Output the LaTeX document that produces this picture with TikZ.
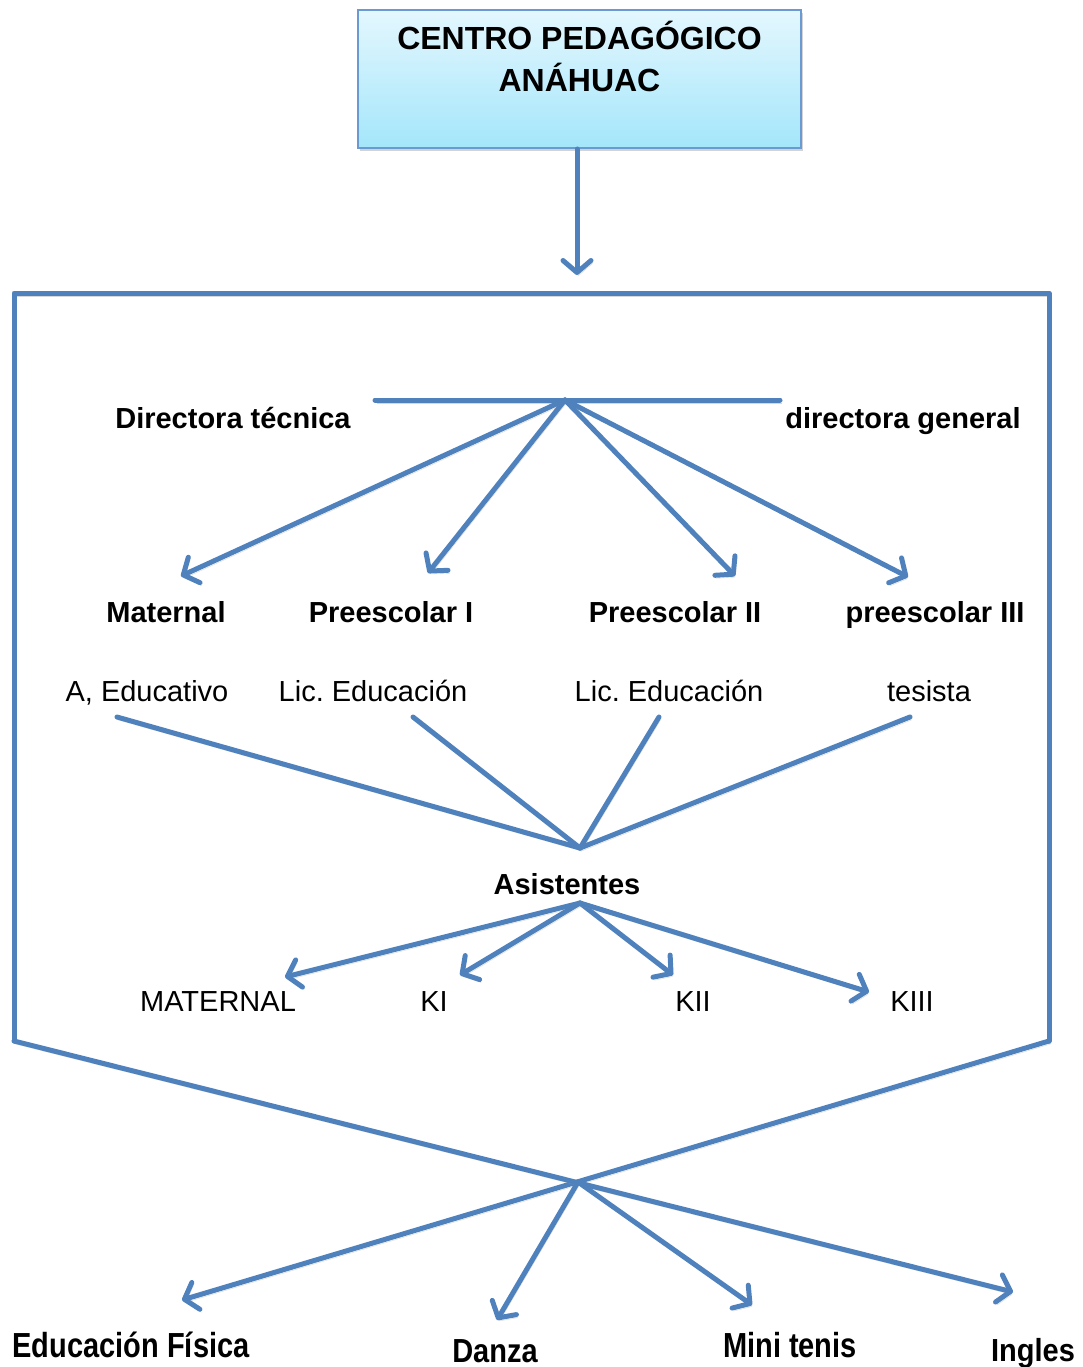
\documentclass[tikz,border=0pt]{standalone}
\usepackage{fontspec}
\setmainfont{Liberation Sans}
\frenchspacing
\usetikzlibrary{arrows.meta,shadows}
\definecolor{lnblue}{HTML}{4F81BD}
\definecolor{boxedge}{HTML}{6A9AD4}
\definecolor{boxtop}{HTML}{E4F7FE}
\definecolor{boxbot}{HTML}{A4E6FB}
\tikzset{
  shd/.style={preaction={draw=black!35,opacity=0.45,transform canvas={xshift=1.5pt,yshift=-3pt}}},
  conn/.style={draw=lnblue,line width=5pt,line cap=round,line join=round,shd},
  arr/.style={conn,-{Straight Barb[length=12pt,width=28pt,round]}},
  bl/.style={font=\fontsize{29}{35}\selectfont\bfseries,inner sep=0pt,anchor=base},
  rg/.style={font=\fontsize{29}{35}\selectfont,inner sep=0pt,anchor=base},
  bt/.style={font=\fontsize{29}{35}\selectfont\bfseries,inner sep=0pt,anchor=base},
  titlebox/.style={draw=boxedge,line width=2pt,top color=boxtop,bottom color=boxbot,
     minimum width=443pt,minimum height=138pt,inner sep=0pt,
     drop shadow={shadow xshift=2pt,shadow yshift=-3pt,opacity=0.35}}
}
\begin{document}
\begin{tikzpicture}[x=1pt,y=-1pt]
\useasboundingbox (0,0) rectangle (1083,1367);
% title box
\node[titlebox] (top) at (579.5,79) {};
\node[font=\fontsize{32}{42}\selectfont\bfseries,align=center,inner sep=0pt,anchor=base] (toptxt) at (579.5,92) {CENTRO PEDAGÓGICO\\ANÁHUAC};
\coordinate (frtop) at (577,275);
\draw[arr] (top.south -| frtop) -- (frtop);
% frame
\coordinate (ftl) at (14,293);
\coordinate (ftr) at (1049,293);
\coordinate (fbl) at (14,1041);
\coordinate (fbr) at (1049,1041);
\draw[conn] (fbl) -- (ftl) -- (ftr) -- (fbr);
% directors bar
\coordinate (barL) at (375,400);
\coordinate (barR) at (780,400);
\coordinate (hub) at (565,400);
\draw[conn] (barL) -- (barR);
\node[bl] (dtec) at (233,428) {Directora técnica};
\node[bl] (dgen) at (903,428) {directora general};
% levels
\coordinate (e1) at (181,576);
\coordinate (e2) at (428,573);
\coordinate (e3) at (735,576);
\coordinate (e4) at (908,577);
\draw[arr] (hub) -- (e1);
\draw[arr] (hub) -- (e2);
\draw[arr] (hub) -- (e3);
\draw[arr] (hub) -- (e4);
\node[bl] (mat) at (166,622) {Maternal};
\node[bl] (pre1) at (391,622) {Preescolar I};
\node[bl] (pre2) at (675,622) {Preescolar II};
\node[bl] (pre3) at (935,622) {preescolar III};
% staff
\node[rg] (s1) at (147,701) {A, Educativo};
\node[rg] (s2) at (373,701) {Lic. Educación};
\node[rg] (s3) at (669,701) {Lic. Educación};
\node[rg] (s4) at (929,701) {tesista};
\coordinate (c1) at (117,717);
\coordinate (c2) at (413,717);
\coordinate (c3) at (659,717);
\coordinate (c4) at (910,717);
\coordinate (conv) at (580,848);
\draw[conn] (c1) -- (conv);
\draw[conn] (c2) -- (conv);
\draw[conn] (c3) -- (conv);
\draw[conn] (c4) -- (conv);
% assistants
\node[bl] (asis) at (567,894) {Asistentes};
\coordinate (ahub) at (580,903);
\coordinate (a1) at (285,977);
\coordinate (a2) at (460,975);
\coordinate (a3) at (673,975);
\coordinate (a4) at (869,992);
\draw[arr] (ahub) -- (a1);
\draw[arr] (ahub) -- (a2);
\draw[arr] (ahub) -- (a3);
\draw[arr] (ahub) -- (a4);
\node[rg] (k0) at (218,1011) {MATERNAL};
\node[rg] (k1) at (434,1011) {KI};
\node[rg] (k2) at (693,1011) {KII};
\node[rg] (k3) at (912,1011) {KIII};
% bottom cross
\coordinate (cross) at (578,1182);
\coordinate (b1) at (182,1300);
\coordinate (b2) at (497,1320);
\coordinate (b3) at (752,1305);
\coordinate (b4) at (1013,1292);
\draw[arr] (fbr) -- (b1);
\draw[arr] (fbl) -- (b4);
\draw[arr] (cross) -- (b2);
\draw[arr] (cross) -- (b3);
\node[bt,yscale=1.2] (ef) at (131,1357) {Educación Física};
\node[bt,yscale=1.15] (dz) at (495,1362) {Danza};
\node[bt,yscale=1.2] (mt) at (790,1357) {Mini tenis};
\node[bt,yscale=1.1] (ing) at (1033,1361) {Ingles};
\end{tikzpicture}
\end{document}
